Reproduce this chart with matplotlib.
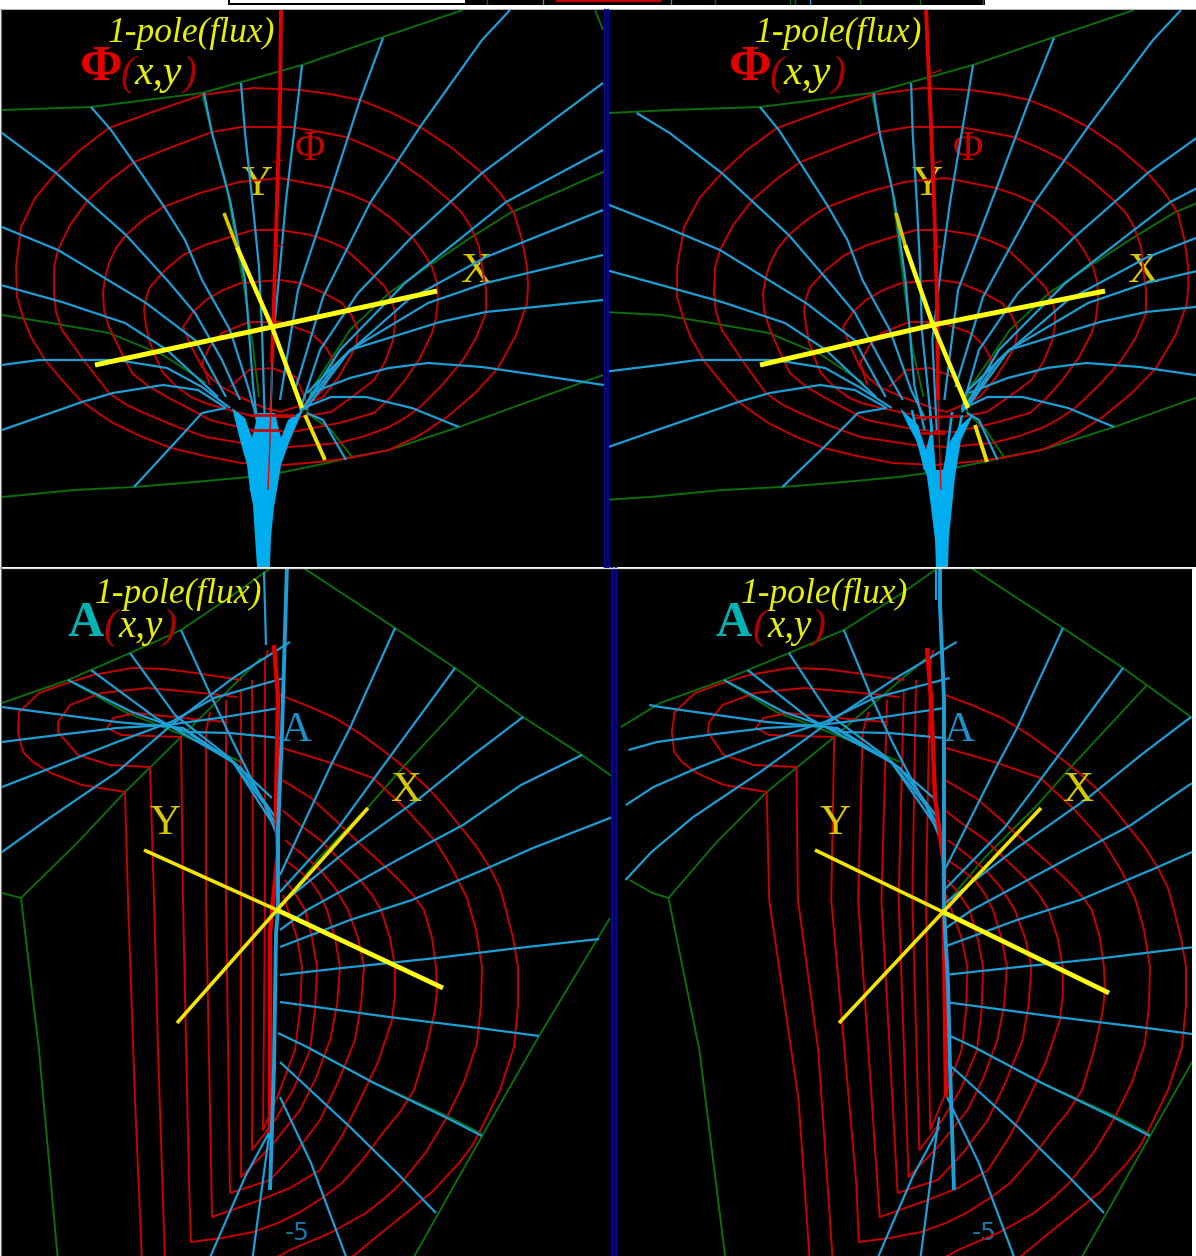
import numpy as np
import matplotlib
matplotlib.use('Agg')
import matplotlib.pyplot as plt
from matplotlib.patches import Rectangle

# ---- upper pair (flux), in picture pixels ----
red1 = [(253,88),(300,90),(330,94),(360,100),(390,112),(420,127),(452,148),(482,173),(500,193),(514,213),(522,240),(527,267),(528,285),(527,303),(516,335),(498,368),(475,393),(447,417),(420,435),(389,450),(350,458),(318,462),(284,465),(241,463),(205,456),(171,448),(140,436),(113,423),(95,411),(80,400),(62,380),(45,360),(31,337),(23,317),(17,297),(16,267),(21,227),(35,198),(56,173),(80,150),(109,128),(155,111),(202,95),(253,88)]
red2 = [(241,127),(292,127),(320,132),(346,137),(372,148),(397,160),(425,180),(449,200),(462,213),(471,227),(479,247),(482,267),(486,290),(486,313),(476,338),(463,360),(442,385),(420,407),(405,418),(389,427),(365,436),(339,443),(290,447),(253,445),(230,441),(206,437),(175,426),(144,413),(125,404),(109,393),(85,362),(62,330),(56,312),(54,293),(54,267),(58,250),(70,225),(88,200),(110,180),(134,162),(172,147),(212,132),(241,127)]
red3 = [(280,178),(306,183),(331,188),(352,195),(370,203),(392,219),(412,237),(423,252),(432,267),(437,283),(438,300),(436,318),(432,333),(420,358),(405,380),(390,398),(374,413),(339,423),(292,432),(253,430),(230,425),(210,420),(188,408),(167,397),(148,386),(132,373),(120,350),(109,327),(104,310),(103,293),(105,278),(109,263),(116,248),(126,235),(143,220),(163,207),(200,193),(239,182),(280,178)]
red4 = [(253,230),(280,230),(311,235),(328,241),(344,248),(365,267),(385,287),(392,300),(395,313),(395,325),(393,340),(385,362),(374,380),(352,397),(331,412),(300,417),(257,417),(240,413),(222,408),(205,403),(191,397),(176,386),(163,373),(156,358),(150,343),(146,326),(144,310),(146,298),(150,287),(165,270),(183,255),(205,245),(230,237),(253,230)]
red5 = [(241,283),(280,280),(300,283),(322,292),(342,303),(352,316),(358,330),(356,345),(350,357),(338,378),(323,397),(302,405),(280,412),(265,408),(253,403),(238,396),(222,387),(211,378),(202,367),(192,348),(183,327),(193,312),(206,300),(223,290),(241,283)]
red6 = [(210,385),(202,363),(210,346),(222,333),(249,322),(280,322),(311,333),(325,346),(333,360),(330,376),(323,390),(300,412)]
red7 = [(230,387),(249,370),(272,368),(296,377),(307,403)]
top_red = [red1, red2, red3, red4, red5, red6, red7]

top_blue = [
    [(-32,113),(2,133),(56,173),(126,235),(167,280),(195,313),(222,360),(240,400)],
    [(-60,203),(2,227),(58,250),(103,277),(146,303),(195,340),(226,397)],
    [(-55,270),(8,287),(62,302),(125,323),(167,350),(218,397)],
    [(-55,372),(2,365),(39,360),(117,360),(167,368),(202,387),(230,408)],
    [(-50,449),(2,430),(82,402),(113,393),(163,385),(198,390),(226,408)],
    [(134,487),(171,447),(202,413),(226,408)],
    [(91,107),(111,130),(132,160),(163,205),(185,240),(202,280),(230,330),(249,390),(257,420)],
    [(204,93),(212,133),(230,200),(245,280),(253,385),(258,430)],
    [(241,83),(245,133),(253,207),(259,267),(262,330),(265,430)],
    [(302,65),(298,100),(286,200),(280,267),(273,340),(270,430)],
    [(383,38),(360,100),(331,190),(298,290),(280,400)],
    [(510,10),(482,40),(420,127),(370,203),(323,297),(296,387)],
    [(603,83),(482,173),(412,237),(358,293),(320,350),(300,410)],
    [(603,150),(506,202),(405,283),(340,350),(302,410)],
    [(603,210),(486,257),(408,300),(340,360),(300,412)],
    [(603,255),(486,283),(428,303),(350,350),(305,410)],
    [(603,300),(486,312),(440,322),(350,350),(307,393)],
    [(650,392),(584,382),(537,375),(482,367),(428,363),(389,368),(350,378),(311,393)],
    [(459,427),(412,408),(366,397),(331,397),(303,408)],
    [(346,460),(323,420),(307,413)],
]
top_green = [
    [(-60,113),(2,110),(91,107),(202,93),(302,65),(383,37),(463,10)],
    [(202,93),(212,133),(226,183),(245,293),(253,347),(259,397)],
    [(650,150),(603,172),(510,213),(467,240),(389,293),(350,330),(311,390),(307,413),(331,430),(352,457)],
    [(-55,312),(2,315),(51,323),(109,333),(163,355),(206,383)],
    [(-45,500),(2,497),(74,490),(134,487),(195,482),(249,477),(284,472),(327,463),(352,457),(389,450),(459,427),(525,403),(603,375)],
    [(595,10),(603,30)],
]

# central axis, funnel and yellow axes are at another depth, so each image has its own
top_axis_l = [(281,10),(280,100),(277,200),(274,300),(272,363)]
top_axis_r = [(926,10),(930,100),(934,200),(937,300),(938,400)]
top_axis_low_l = [(272,363),(270,440),(268,490)]
top_axis_low_r = [(938,400),(941,490)]
funnel_l = [(232,408),(240,440),(247,465),(250,490),(253,505),(255,537),(257,567),(270,567),(271,537),(274,507),(277,490),(281,465),(290,440),(303,410),(288,420),(281,438),(275,413),(258,413),(252,438),(245,418)]
funnel_r = [(900,408),(908,425),(916,440),(927,477),(931,507),(935,540),(936,567),(948,567),(949,537),(952,507),(955,477),(961,440),(974,413),(958,428),(948,445),(943,470),(936,470),(932,425),(926,450),(918,425)]
funnel_fan_r = [[(912,410),(925,470)],[(930,410),(934,470)],[(952,412),(945,470)],[(962,415),(950,470)]]
top_bars_l = [[(250,415),(295,415)],[(250,430),(280,430)]]
top_bars_r = [[(915,418),(960,416)],[(920,433),(945,433)]]
top_x_axis_l = [(95,365),(272,327),(437,291)]
top_x_axis_r = [(760,365),(933,325),(1105,291)]
top_y_thin_l = [(224,213),(237,247)]
top_y_thick_l = [(237,247),(272,327),(302,408)]
top_y_low_l = [(305,415),(325,460)]
top_y_thin_r = [(896,213),(905,245)]
top_y_thick_r = [(905,245),(933,325),(968,408)]
top_y_low_r = [(975,425),(987,462)]

# ---- lower pair (vector potential) ----
low_red = [
    [(280,695),(308,706),(335,718),(362,735),(389,755),(410,772),(428,788),(444,806),(459,825),(476,846),(490,868),(500,888),(506,910),(513,938),(518,967),(518,1005),(514,1047),(500,1090),(482,1127),(472,1146),(459,1163),(432,1192),(401,1217),(375,1238),(346,1262)],
    [(282,748),(328,762),(373,778),(405,808),(436,842),(453,870),(467,898),(476,930),(482,967),(481,1005),(477,1043),(464,1082),(447,1117),(426,1152),(401,1183),(385,1198),(366,1213),(330,1233),(290,1250),(272,1260)],
    [(282,780),(311,798),(335,820),(358,842),(380,862),(401,882),(414,896),(424,910),(432,938),(436,967),(437,990),(435,1010),(426,1050),(414,1090),(400,1112),(385,1130),(364,1158),(342,1183),(322,1198),(300,1212),(278,1223),(253,1232),(222,1238),(191,1242),(189,1183),(183,900),(181,737),(121,735),(107,728),(113,718),(136,713),(183,718),(226,722)],
    [(282,810),(300,825),(320,840),(340,860),(360,880),(372,895),(381,910),(390,938),(395,967),(395,995),(392,1020),(378,1062),(360,1100),(342,1136),(320,1170),(290,1188),(260,1200),(212,1217),(206,900),(206,732),(210,712)],
    [(285,840),(303,855),(320,870),(335,888),(348,910),(358,938),(364,967),(361,1005),(355,1040),(338,1082),(320,1120),(296,1152),(270,1180),(230,1193),(226,900),(226,700)],
    [(285,860),(298,870),(310,880),(320,895),(327,910),(335,938),(340,967),(337,1005),(330,1040),(316,1078),(300,1110),(272,1145),(241,1177),(241,900),(241,690)],
    [(285,880),(296,895),(305,910),(312,938),(317,967),(315,1010),(310,1050),(294,1088),(275,1120),(252,1150),(253,900),(252,680)],
    [(283,895),(288,910),(297,938),(302,967),(300,1010),(295,1050),(280,1090),(263,1130),(265,900),(265,660),(268,650)],
    [(142,1262),(135,1100),(128,900),(125,792),(82,785),(51,773),(33,762),(23,752),(18,732),(19,712),(39,693),(64,684),(93,675),(132,668),(165,669),(195,673),(241,680)],
    [(165,1262),(158,1050),(154,900),(150,767),(110,765),(78,755),(58,732),(58,722),(70,705),(101,693),(148,688),(202,693),(237,697)],
]
low_blue = [
    [(395,628),(350,728),(331,765),(303,825),(280,875)],
    [(455,668),(389,758),(338,828),(280,892)],
    [(523,717),(473,755),(420,798),(350,848),(280,905)],
    [(582,755),(521,785),(463,825),(401,858),(307,910),(280,930)],
    [(650,800),(610,818),(533,848),(490,867),(412,900),(350,920),(280,947)],
    [(599,939),(518,948),(436,958),(342,968),(280,975)],
    [(539,1036),(479,1028),(389,1017),(280,1002)],
    [(482,1136),(447,1118),(374,1083),(307,1047),(278,1033)],
    [(436,1213),(401,1177),(350,1127),(280,1062)],
    [(348,1262),(311,1163),(280,1097)],
    [(208,1262),(245,1177),(272,1127)],
    [(252,1262),(267,1150),(272,1117)],
    [(-10,705),(2,707),(117,722),(183,728),(233,762),(265,805),(278,838)],
    [(-30,750),(2,742),(58,735),(117,728),(167,725),(218,718),(280,708)],
    [(-30,805),(2,787),(51,768),(117,742),(171,722),(214,698),(284,678)],
    [(-30,880),(2,852),(51,817),(117,772),(175,722),(233,678),(290,642)],
    [(181,630),(212,698),(233,742),(253,782),(276,825)],
    [(130,653),(175,715),(226,755),(272,798)],
    [(91,670),(156,718),(233,762),(278,832)],
    [(68,680),(132,712),(187,732),(241,768),(276,818)],
    [(187,732),(230,733),(280,738)],
]
low_green = [
    [(-40,727),(2,703),(68,680),(130,653),(181,630),(233,595),(272,567)],
    [(302,567),(395,628),(455,668),(523,717),(582,755),(610,775),(680,820)],
    [(479,685),(405,765),(370,805),(319,858),(280,908)],
    [(-25,880),(2,893),(21,898),(78,842),(125,792),(181,737),(261,658)],
    [(21,898),(39,1050),(58,1262)],
    [(610,918),(539,1036),(482,1136),(411,1262)],
    [(307,1047),(374,1083),(447,1116),(482,1134)],
    [(68,680),(125,712),(183,735),(241,762)],
]
low_axis_l = [(287,565),(286,598),(282,732),(278,832),(278,910),(276,933),(274,1067),(270,1190)]
low_axis_r = [(940,565),(940,605),(944,700),(944,910),(948,983),(950,1067),(954,1190)]
low_thin_l = [(264,572),(266,645)]
low_thin_r = [(936,570),(936,600)]
low_core_l = [(274,645),(278,698),(276,808),(278,852),(272,910),(270,933),(270,1067),(270,1133)]
low_core_r = [(927,648),(931,698),(935,798),(944,865),(944,933),(946,1097)]
low_x_axis_l = [(177,1023),(277,910),(368,808)]
low_x_axis_r = [(839,1023),(943,912),(1041,808)]
low_y_thin_l = [(144,850),(277,910)]
low_y_thick_l = [(277,910),(443,988)]
low_y_thin_r = [(815,850),(943,912)]
low_y_thick_r = [(943,912),(1109,993)]

# labels
title_text = '1-pole(flux)'
args_text = 'x,y'
top_symbol = '\u03a6'
low_symbol = 'A'
low_tick = '-5'

# top strip pieces
strip_red = [(557,660)]
strip_ticks = [(487,'#0a6a0a'),(543,'#1fa0d8'),(671,'#1fa0d8'),(715,'#0a6a0a'),(790,'#0a6a0a'),(795,'#0a6a0a'),(810,'#1fa0d8'),(860,'#0a6a0a'),(920,'#0a6a0a'),(983,'#0a6a0a')]

RED = '#c80000'
BLUE = '#1c9fd6'
CYAN = '#00aeef'
GREEN = '#0b6e0b'
YEL = '#ffff10'
DYEL = '#d8c800'
SERIF = 'Liberation Serif'

fig = plt.figure(figsize=(11.96, 12.56), dpi=100, facecolor='white')
ax = fig.add_axes([0, 0, 1, 1])
ax.set_xlim(0, 1196)
ax.set_ylim(1256, 0)
ax.axis('off')


def top_shift(x, y):
    # second image of the stereo pair: x shift changes with height, more near the funnel
    bump = 15 * np.clip(1 - np.hypot((x - 265) / 60, (y - 420) / 50), 0, 1)
    return x + np.interp(y, [65, 290, 327, 430, 490], [671, 660, 660, 655, 648]) + bump


def low_shift(x, y):
    return x + 668 - 30 * np.exp(-0.5 * (((x - 100) / 100) ** 2 + ((y - 850) / 130) ** 2))


def line(pts, clip, color, lw, shift=None, z=3):
    a = np.array(pts, dtype=float)
    xs, ys = a[:, 0], a[:, 1]
    if shift is not None:
        xs = shift(xs, ys)
    l, = ax.plot(xs, ys, color=color, lw=lw, zorder=z, solid_capstyle='butt', solid_joinstyle='round')
    l.set_clip_path(clip)


def panel(x0, x1, y0, y1):
    r = Rectangle((x0, y0), x1 - x0, y1 - y0, transform=ax.transData, fc='black', ec='none', zorder=0)
    ax.add_patch(r)
    return r


def draw_net(greens, reds, blues, clip, shift=None):
    for g in greens:
        line(g, clip, GREEN, 1.4, shift, z=3)
    for r in reds:
        line(r, clip, RED, 1.4, shift, z=4)
    for b in blues:
        line(b, clip, BLUE, 1.6, shift, z=5)


def label(x, y, s, color, size, weight='normal', style='normal', z=2, family=SERIF):
    ax.text(x, y, s, color=color, fontsize=size, fontweight=weight, fontstyle=style,
            family=family, ha='left', va='center', zorder=z)


tl = panel(1, 604, 10, 567)
tr = panel(609, 1196, 10, 567)
bl = panel(1, 611, 568, 1256)
br = panel(617, 1192, 568, 1256)

# blue frame lines between the images
ax.fill_between([604, 609], 10, 567, color='#000000', zorder=0)
ax.fill_between([611, 617], 568, 1256, color='#000000', zorder=0)
for px, y0, y1 in [(604.5, 10, 567), (608, 10, 567), (611.5, 568, 1256), (615.5, 568, 1256)]:
    ax.plot([px, px], [y0, y1], color='#0000b8', lw=1.6, zorder=6)
ax.plot([0, 1192], [567.5, 567.5], color='#d8d8d8', lw=0.9, zorder=7)
ax.plot([0.5, 0.5], [10, 1256], color='#707070', lw=0.9, zorder=7)

# top strip
ax.add_patch(Rectangle((228, 0), 757, 4.5, fc='black', ec='none', zorder=1))
ax.add_patch(Rectangle((230, 0), 235, 2.5, fc='white', ec='none', zorder=2))
for a, b in strip_red:
    ax.plot([a, b], [1, 1], color=RED, lw=1.6, zorder=3)
for tx, c in strip_ticks:
    ax.plot([tx, tx], [0, 4], color=c, lw=0.9, zorder=3)
ax.plot([0, 1196], [9.3, 9.3], color='#b0b0b0', lw=0.7, zorder=1)

# flux images
draw_net(top_green, top_red, top_blue, tl)
draw_net(top_green, top_red, top_blue, tr, top_shift)
for axis_hi, axis_lo, fun, bars, xa, yt, yk, yl, clip in [
        (top_axis_l, top_axis_low_l, funnel_l, top_bars_l, top_x_axis_l, top_y_thin_l, top_y_thick_l, top_y_low_l, tl),
        (top_axis_r, top_axis_low_r, funnel_r, top_bars_r, top_x_axis_r, top_y_thin_r, top_y_thick_r, top_y_low_r, tr)]:
    line(axis_hi, clip, '#e00000', 2.8, z=6)
    f = np.array(fun)
    ax.fill(f[:, 0], f[:, 1], color=CYAN, lw=0, zorder=6)
    for b in bars:
        line(b, clip, RED, 1.9, z=7)
    line(axis_lo, clip, '#e00000', 1.0, z=7)
    line(xa, clip, YEL, 3.6, z=8)
    line(yt, clip, DYEL, 2.6, z=8)
    line(yk, clip, YEL, 3.2, z=8)
    line(yl, clip, '#f0e000', 2.8, z=8)
for fan in funnel_fan_r:
    line(fan, tr, CYAN, 1.8, z=6)

# potential images
draw_net(low_green, low_red, low_blue, bl)
draw_net(low_green, low_red, low_blue, br, low_shift)
for ax_line, thin, core, xa, yt, yk, clip in [
        (low_axis_l, low_thin_l, low_core_l, low_x_axis_l, low_y_thin_l, low_y_thick_l, bl),
        (low_axis_r, low_thin_r, low_core_r, low_x_axis_r, low_y_thin_r, low_y_thick_r, br)]:
    line(core, clip, '#e00000', 3.2, z=5)
    line(thin, clip, BLUE, 1.6, z=6)
    line(ax_line, clip, BLUE, 2.8, z=6)
    line(xa, clip, '#f5e400', 2.6, z=8)
    line(yt, clip, '#f5e400', 2.6, z=8)
    line(yk, clip, YEL, 3.4, z=8)

# axis tick stubs on the flux axis
for tx, ty in [(274, 161), (274, 246)]:
    ax.plot([tx, tx + 8], [ty + 1, ty - 1], color=RED, lw=1.0, zorder=6)
for tx, ty in [(933, 72), (933, 163), (933, 248)]:
    ax.plot([tx, tx + 8], [ty + 1, ty - 2], color=RED, lw=1.0, zorder=6)

# text, upper pair
for dx, phi_x, sym_x, ylab_x, xlab_x in [(0, 80, 295, 241, 461), (647, 729, 953, 912, 1128)]:
    label(108 + dx, 33, title_text, '#e6f000', 25.5, style='italic', z=9)
    label(phi_x, 68, top_symbol, '#e00000', 37, weight='bold', z=9)
    label(phi_x + 41, 75, '(', '#b00000', 30, style='italic', z=9)
    label(phi_x + 55, 74, args_text, '#e6f000', 30, style='italic', z=9)
    label(phi_x + 103, 75, ')', '#b00000', 30, style='italic', z=9)
    label(sym_x, 150, top_symbol, '#c80000', 30, z=2)
    label(ylab_x, 185, 'Y', DYEL, 31, z=2)
    label(xlab_x, 272, 'X', DYEL, 31, z=2)

# text, lower pair
for dx, a_x, sym_x, ylab_x, xlab_x, tick_x in [(0, 67, 281, 149, 391, 285), (646, 716, 944, 820, 1063, 972)]:
    label(95 + dx, 594, title_text, '#e6f000', 25.5, style='italic', z=9)
    label(a_x, 624, low_symbol, '#00b4b4', 36, weight='bold', z=9)
    label(a_x + 37, 628, '(', '#b00000', 30, style='italic', z=9)
    label(a_x + 51, 627, args_text, '#e6f000', 28, style='italic', z=9)
    label(a_x + 96, 628, ')', '#b00000', 30, style='italic', z=9)
    label(sym_x, 731, low_symbol, '#1c90c8', 31, z=7)
    label(ylab_x, 824, 'Y', DYEL, 31, z=7)
    label(xlab_x, 791, 'X', DYEL, 31, z=7)
    label(tick_x, 1233, low_tick, '#1878a8', 18, z=2, family='DejaVu Sans')

fig.savefig('out.png', dpi=100, facecolor='white')
